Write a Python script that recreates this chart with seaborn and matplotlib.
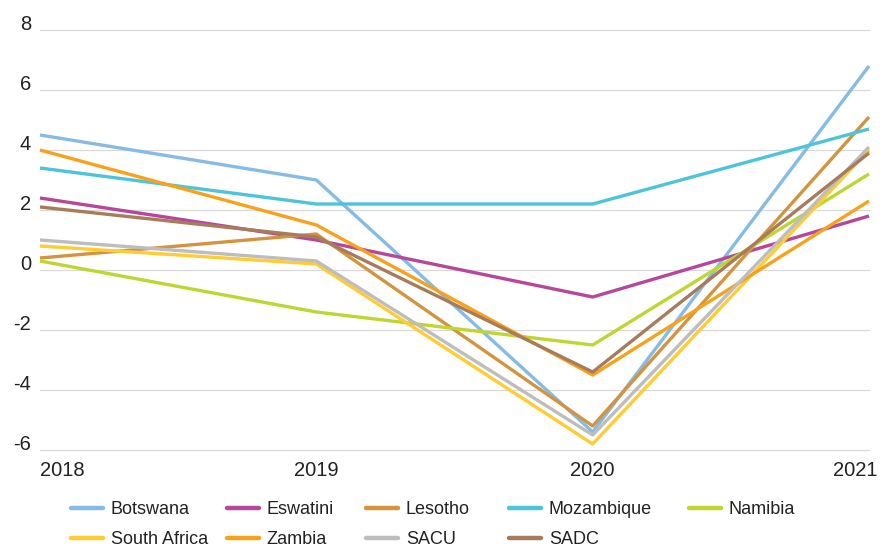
import matplotlib
matplotlib.use("Agg")
import matplotlib.pyplot as plt
import matplotlib.transforms as mtransforms
from matplotlib.lines import Line2D
import seaborn as sns
import pandas as pd

years = [2018, 2019, 2020, 2021]
botswana = [4.5, 3.0, -5.4, 6.8]
eswatini = [2.4, 1.0, -0.9, 1.8]
lesotho = [0.4, 1.2, -5.2, 5.1]
mozambique = [3.4, 2.2, 2.2, 4.7]
namibia = [0.3, -1.4, -2.5, 3.2]
south_africa = [0.8, 0.2, -5.8, 4.0]
zambia = [4.0, 1.5, -3.5, 2.3]
sacu = [1.0, 0.3, -5.5, 4.1]
sadc = [2.1, 1.1, -3.4, 3.9]

series_names = ["Botswana", "Eswatini", "Lesotho", "Mozambique", "Namibia",
                "South Africa", "Zambia", "SACU", "SADC"]
series_values = [botswana, eswatini, lesotho, mozambique, namibia,
                 south_africa, zambia, sacu, sadc]
colors = ["#85BBE5", "#B7479A", "#D3943F", "#4DC4D8", "#BED62F",
          "#FFCC33", "#F9A11B", "#BDBDBD", "#A67C5B"]
y_ticks = [-6, -4, -2, 0, 2, 4, 6, 8]

rows = []
for name, vals in zip(series_names, series_values):
    for yr, v in zip(years, vals):
        rows.append({"year": yr, "value": v, "series": name})
df = pd.DataFrame(rows)

sns.set_style("white")
plt.rcParams["font.family"] = ["Liberation Sans", "DejaVu Sans"]
plt.rcParams["axes.unicode_minus"] = False

W, H = 889, 547
fig = plt.figure(figsize=(W / 100, H / 100), dpi=100)
ax = fig.add_axes([40 / W, 1 - 450 / H, (869 - 40) / W, 420 / H])

palette = dict(zip(series_names, colors))
sns.lineplot(data=df, x="year", y="value", hue="series", hue_order=series_names,
             palette=palette, linewidth=2.4, legend=False, ax=ax, sort=False)
for ln in ax.lines:
    ln.set_clip_on(False)
    ln.set_solid_joinstyle("round")
    ln.set_solid_capstyle("butt")

ax.set_xlim(2018, 2021)
ax.set_ylim(-6, 8)
ax.set_xticks(years)
ax.set_xticklabels([str(y) for y in years])
ax.set_yticks(y_ticks)
ax.set_yticklabels([str(t) for t in y_ticks])
ax.set_xlabel("")
ax.set_ylabel("")
ax.grid(axis="y", color="#D9D9D9", linewidth=0.9)
ax.grid(axis="x", visible=False)
ax.set_axisbelow(True)
for gl in ax.get_ygridlines():
    gl.set_clip_on(False)
for s in ax.spines.values():
    s.set_visible(False)

ax.tick_params(axis="both", length=0, labelsize=14.5, labelcolor="#222222")
ax.tick_params(axis="y", pad=6.5)
ax.tick_params(axis="x", pad=18.5)
for lab in ax.get_yticklabels():
    lab.set_va("baseline")
xl = ax.get_xticklabels()
for lab in xl:
    lab.set_va("baseline")
xl[0].set_ha("left")
xl[-1].set_ha("right")
xl[-1].set_transform(xl[-1].get_transform() +
                     mtransforms.ScaledTranslation(8 / 100, 0, fig.dpi_scale_trans))

# legend: five columns placed at the reference positions
col_x = [71, 227, 366, 509, 689]
columns = [[0, 5], [1, 6], [2, 7], [3, 8], [4]]
for cx, idxs in zip(col_x, columns):
    handles = [Line2D([0], [0], color=colors[i], linewidth=3.2,
                      solid_capstyle="round") for i in idxs]
    labels = [series_names[i] for i in idxs]
    fig.legend(handles, labels, loc="upper left",
               bbox_to_anchor=(cx / W, 1 - 501.5 / H),
               frameon=False, fontsize=13, labelcolor="#222222",
               handlelength=1.75, handletextpad=0.45, labelspacing=0.72,
               borderpad=0, borderaxespad=0)

fig.savefig("out.png", dpi=100)
